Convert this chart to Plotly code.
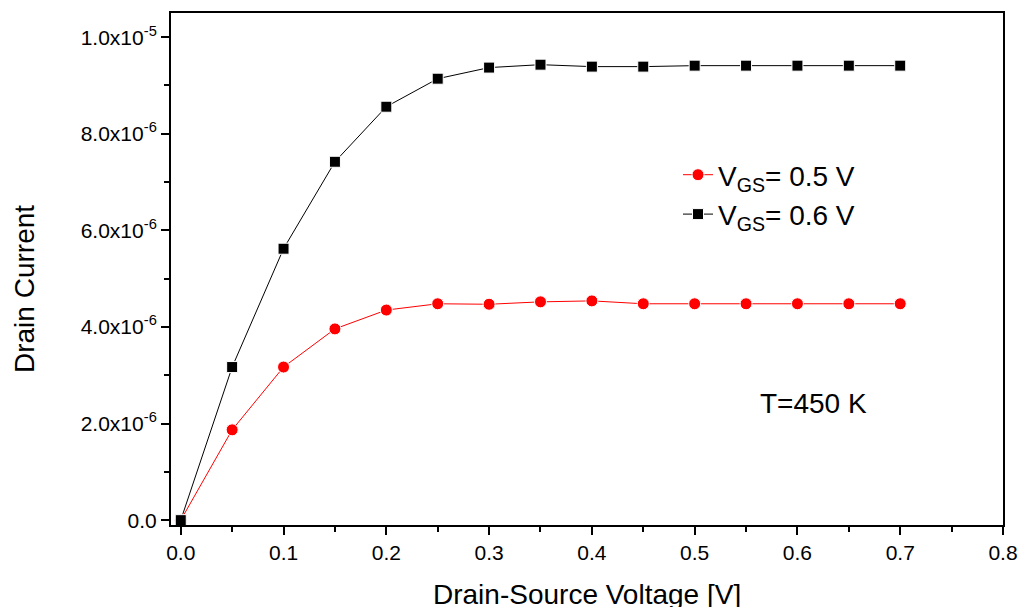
import plotly.graph_objects as go

vds = [0.0, 0.05, 0.1, 0.15, 0.2, 0.25, 0.3, 0.35, 0.4, 0.45, 0.5, 0.55, 0.6, 0.65, 0.7]
id_05 = [0.0, 1.87e-6, 3.17e-6, 3.96e-6, 4.35e-6, 4.48e-6, 4.47e-6, 4.52e-6, 4.54e-6,
         4.48e-6, 4.48e-6, 4.48e-6, 4.48e-6, 4.48e-6, 4.48e-6]
id_06 = [0.0, 3.17e-6, 5.62e-6, 7.42e-6, 8.56e-6, 9.14e-6, 9.37e-6, 9.43e-6, 9.39e-6,
         9.39e-6, 9.41e-6, 9.41e-6, 9.41e-6, 9.41e-6, 9.41e-6]
ytick_vals = [0.0, 2e-6, 4e-6, 6e-6, 8e-6, 1e-5]
ytick_text = ["0.0", "2.0x10<sup>-6</sup>", "4.0x10<sup>-6</sup>", "6.0x10<sup>-6</sup>",
              "8.0x10<sup>-6</sup>", "1.0x10<sup>-5</sup>"]
xtick_vals = [0.0, 0.1, 0.2, 0.3, 0.4, 0.5, 0.6, 0.7, 0.8]
xtick_text = ["0.0", "0.1", "0.2", "0.3", "0.4", "0.5", "0.6", "0.7", "0.8"]

FONT = "Arial, Liberation Sans, sans-serif"
ML, MR, MT, MB = 171, 16, 13, 82
W, H = 1019, 607
PW, PH = W - ML - MR, H - MT - MB


def px_x(px):
    return (px - ML) / PW


def px_y(py):
    return (H - MB - py) / PH


fig = go.Figure()
fig.add_trace(go.Scatter(
    x=vds, y=id_05, mode="lines+markers", name="V<sub>GS</sub>= 0.5 V",
    line=dict(color="#ff0000", width=1),
    marker=dict(symbol="circle", size=12, color="#ff0000", line=dict(color="white", width=1)),
))
fig.add_trace(go.Scatter(
    x=vds, y=id_06, mode="lines+markers", name="V<sub>GS</sub>= 0.6 V",
    line=dict(color="#000000", width=1),
    marker=dict(symbol="square", size=11, color="#000000", line=dict(color="white", width=1)),
))

fig.update_layout(
    width=W, height=H,
    margin=dict(l=ML, r=MR, t=MT, b=MB, autoexpand=False),
    paper_bgcolor="white", plot_bgcolor="white",
    font=dict(family=FONT, color="black", size=21),
    showlegend=True,
    legend=dict(x=px_x(678), y=px_y(150), xanchor="left", yanchor="top",
                font=dict(size=28, family=FONT), bgcolor="rgba(0,0,0,0)",
                tracegroupgap=0),
    annotations=[
        dict(text="T=450 K", x=0.6155, y=2.42e-6, xref="x", yref="y", showarrow=False,
             font=dict(size=28, family=FONT), xanchor="center", yanchor="middle"),
        dict(text="Drain Current", x=px_x(24), y=px_y(289), xref="paper", yref="paper",
             showarrow=False, textangle=-90, font=dict(size=28, family=FONT),
             xanchor="center", yanchor="middle"),
        dict(text="Drain-Source Voltage [V]", x=0.5, y=px_y(594), xref="paper", yref="paper",
             showarrow=False, font=dict(size=28, family=FONT),
             xanchor="center", yanchor="middle"),
    ],
)

fig.update_xaxes(
    range=[-0.0095, 0.8], tickvals=xtick_vals, ticktext=xtick_text,
    ticks="outside", ticklen=8, tickwidth=2, tickcolor="black",
    showline=True, linewidth=2, linecolor="black", mirror=True,
    showgrid=False, zeroline=False,
    minor=dict(ticks="outside", ticklen=5, tickwidth=2, tickcolor="black", dtick=0.05, tick0=0, showgrid=False),
    tickfont=dict(size=21, family=FONT),
)
fig.update_yaxes(
    range=[-0.1e-6, 10.5e-6], tickvals=ytick_vals, ticktext=ytick_text,
    ticks="outside", ticklen=8, tickwidth=2, tickcolor="black",
    showline=True, linewidth=2, linecolor="black", mirror=True,
    showgrid=False, zeroline=False,
    minor=dict(ticks="outside", ticklen=5, tickwidth=2, tickcolor="black", dtick=1e-6, tick0=0, showgrid=False),
    tickfont=dict(size=21, family=FONT),
)

fig.write_html("out.html")
